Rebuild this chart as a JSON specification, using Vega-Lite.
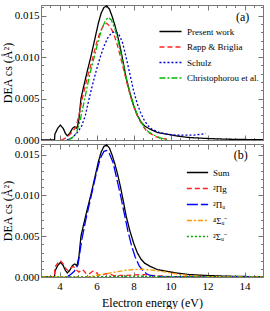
{
  "$schema": "https://vega.github.io/schema/vega-lite/v6.json",
  "padding": {"left": 0, "top": 2, "right": 1, "bottom": 0},
  "config": {
    "font": "Liberation Serif",
    "view": {"stroke": "#777", "strokeWidth": 1},
    "axis": {"domain": false, "grid": false, "tickColor": "#777", "labelFont": "Liberation Serif", "labelFontSize": 11, "labelColor": "black", "titleFont": "Liberation Serif", "titleFontSize": 12, "titleFontWeight": "normal", "titleColor": "black"},
    "legend": {"labelFont": "Liberation Serif", "labelFontSize": 9, "labelColor": "black", "padding": 0}
  },
  "bounds": "flush",
  "spacing": 4,
  "datasets": {
    "top": [
      {"s":"Present work","E":3.0,"v":0},{"s":"Present work","E":3.73,"v":0},{"s":"Present work","E":3.75,"v":0.0007},{"s":"Present work","E":3.9,"v":0.0014},{"s":"Present work","E":4.05,"v":0.0018},{"s":"Present work","E":4.2,"v":0.0014},{"s":"Present work","E":4.32,"v":0.0008},{"s":"Present work","E":4.42,"v":0.0005},{"s":"Present work","E":4.55,"v":0.0008},{"s":"Present work","E":4.7,"v":0.0014},{"s":"Present work","E":4.82,"v":0.0016},{"s":"Present work","E":4.95,"v":0.0014},{"s":"Present work","E":5.05,"v":0.0025},{"s":"Present work","E":5.16,"v":0.005},{"s":"Present work","E":5.3,"v":0.0064},{"s":"Present work","E":5.5,"v":0.0083},{"s":"Present work","E":5.7,"v":0.0101},{"s":"Present work","E":5.9,"v":0.0121},{"s":"Present work","E":6.1,"v":0.0141},{"s":"Present work","E":6.25,"v":0.0153},{"s":"Present work","E":6.4,"v":0.016},{"s":"Present work","E":6.55,"v":0.0162},{"s":"Present work","E":6.7,"v":0.0158},{"s":"Present work","E":6.85,"v":0.0149},{"s":"Present work","E":7.0,"v":0.0138},{"s":"Present work","E":7.15,"v":0.0125},{"s":"Present work","E":7.3,"v":0.011},{"s":"Present work","E":7.45,"v":0.0093},{"s":"Present work","E":7.6,"v":0.0075},{"s":"Present work","E":7.8,"v":0.0057},{"s":"Present work","E":8.0,"v":0.0042},{"s":"Present work","E":8.2,"v":0.003},{"s":"Present work","E":8.4,"v":0.0022},{"s":"Present work","E":8.6,"v":0.0017},{"s":"Present work","E":8.9,"v":0.0013},{"s":"Present work","E":9.3,"v":0.0009},{"s":"Present work","E":9.8,"v":0.0007},{"s":"Present work","E":10.3,"v":0.0005},{"s":"Present work","E":11,"v":0.0003},{"s":"Present work","E":12,"v":0.00018},{"s":"Present work","E":13,"v":0.0001},{"s":"Present work","E":14,"v":0.00006},{"s":"Present work","E":15,"v":0.00004},
      {"s":"Rapp & Briglia","E":4.1,"v":0},{"s":"Rapp & Briglia","E":4.3,"v":0.0002},{"s":"Rapp & Briglia","E":4.5,"v":0.0005},{"s":"Rapp & Briglia","E":4.7,"v":0.001},{"s":"Rapp & Briglia","E":4.9,"v":0.0016},{"s":"Rapp & Briglia","E":5.1,"v":0.0035},{"s":"Rapp & Briglia","E":5.25,"v":0.0052},{"s":"Rapp & Briglia","E":5.5,"v":0.0075},{"s":"Rapp & Briglia","E":5.75,"v":0.0095},{"s":"Rapp & Briglia","E":6.0,"v":0.0117},{"s":"Rapp & Briglia","E":6.2,"v":0.0131},{"s":"Rapp & Briglia","E":6.4,"v":0.0139},{"s":"Rapp & Briglia","E":6.55,"v":0.0141},{"s":"Rapp & Briglia","E":6.7,"v":0.0138},{"s":"Rapp & Briglia","E":6.9,"v":0.013},{"s":"Rapp & Briglia","E":7.1,"v":0.0117},{"s":"Rapp & Briglia","E":7.3,"v":0.01},{"s":"Rapp & Briglia","E":7.5,"v":0.0082},{"s":"Rapp & Briglia","E":7.7,"v":0.0064},{"s":"Rapp & Briglia","E":7.9,"v":0.0048},{"s":"Rapp & Briglia","E":8.1,"v":0.0035},{"s":"Rapp & Briglia","E":8.3,"v":0.0025},{"s":"Rapp & Briglia","E":8.5,"v":0.0017},{"s":"Rapp & Briglia","E":8.7,"v":0.0011},{"s":"Rapp & Briglia","E":8.9,"v":0.0008},{"s":"Rapp & Briglia","E":9.2,"v":0.0004},{"s":"Rapp & Briglia","E":9.5,"v":0.0002},{"s":"Rapp & Briglia","E":9.8,"v":0.0001},
      {"s":"Schulz","E":4.4,"v":0},{"s":"Schulz","E":4.7,"v":0.0003},{"s":"Schulz","E":5.0,"v":0.001},{"s":"Schulz","E":5.2,"v":0.0017},{"s":"Schulz","E":5.4,"v":0.003},{"s":"Schulz","E":5.6,"v":0.005},{"s":"Schulz","E":5.8,"v":0.0068},{"s":"Schulz","E":6.0,"v":0.0085},{"s":"Schulz","E":6.2,"v":0.01},{"s":"Schulz","E":6.4,"v":0.0113},{"s":"Schulz","E":6.6,"v":0.0123},{"s":"Schulz","E":6.8,"v":0.0129},{"s":"Schulz","E":7.0,"v":0.0131},{"s":"Schulz","E":7.2,"v":0.0128},{"s":"Schulz","E":7.4,"v":0.0118},{"s":"Schulz","E":7.6,"v":0.01},{"s":"Schulz","E":7.8,"v":0.008},{"s":"Schulz","E":8.0,"v":0.006},{"s":"Schulz","E":8.2,"v":0.0044},{"s":"Schulz","E":8.4,"v":0.0032},{"s":"Schulz","E":8.6,"v":0.0023},{"s":"Schulz","E":8.8,"v":0.0017},{"s":"Schulz","E":9.0,"v":0.0013},{"s":"Schulz","E":9.4,"v":0.0009},{"s":"Schulz","E":9.8,"v":0.0007},{"s":"Schulz","E":10.3,"v":0.0006},{"s":"Schulz","E":10.8,"v":0.0006},{"s":"Schulz","E":11.3,"v":0.0006},{"s":"Schulz","E":11.7,"v":0.0007},{"s":"Schulz","E":11.9,"v":0.0008},
      {"s":"Christophorou et al.","E":4.5,"v":0},{"s":"Christophorou et al.","E":4.7,"v":0.0003},{"s":"Christophorou et al.","E":4.9,"v":0.0008},{"s":"Christophorou et al.","E":5.1,"v":0.0022},{"s":"Christophorou et al.","E":5.3,"v":0.0043},{"s":"Christophorou et al.","E":5.5,"v":0.0065},{"s":"Christophorou et al.","E":5.7,"v":0.0085},{"s":"Christophorou et al.","E":5.9,"v":0.0102},{"s":"Christophorou et al.","E":6.1,"v":0.012},{"s":"Christophorou et al.","E":6.3,"v":0.0135},{"s":"Christophorou et al.","E":6.5,"v":0.0145},{"s":"Christophorou et al.","E":6.65,"v":0.0148},{"s":"Christophorou et al.","E":6.8,"v":0.0145},{"s":"Christophorou et al.","E":7.0,"v":0.0134},{"s":"Christophorou et al.","E":7.2,"v":0.0117},{"s":"Christophorou et al.","E":7.4,"v":0.0096},{"s":"Christophorou et al.","E":7.6,"v":0.0076},{"s":"Christophorou et al.","E":7.8,"v":0.0058},{"s":"Christophorou et al.","E":8.0,"v":0.0043},{"s":"Christophorou et al.","E":8.2,"v":0.0031},{"s":"Christophorou et al.","E":8.4,"v":0.0022},{"s":"Christophorou et al.","E":8.6,"v":0.0015},{"s":"Christophorou et al.","E":8.8,"v":0.001},{"s":"Christophorou et al.","E":9.1,"v":0.0006},{"s":"Christophorou et al.","E":9.4,"v":0.0003},{"s":"Christophorou et al.","E":9.7,"v":0.0001},{"s":"Christophorou et al.","E":9.9,"v":0.00005}
    ],
    "bottom": [
      {"s":"Sum","E":3.0,"v":0},{"s":"Sum","E":3.73,"v":0},{"s":"Sum","E":3.75,"v":0.0007},{"s":"Sum","E":3.9,"v":0.0014},{"s":"Sum","E":4.05,"v":0.0018},{"s":"Sum","E":4.2,"v":0.0014},{"s":"Sum","E":4.32,"v":0.0008},{"s":"Sum","E":4.42,"v":0.0005},{"s":"Sum","E":4.55,"v":0.0008},{"s":"Sum","E":4.7,"v":0.0014},{"s":"Sum","E":4.82,"v":0.0016},{"s":"Sum","E":4.95,"v":0.0014},{"s":"Sum","E":5.05,"v":0.0025},{"s":"Sum","E":5.16,"v":0.005},{"s":"Sum","E":5.3,"v":0.0064},{"s":"Sum","E":5.5,"v":0.0083},{"s":"Sum","E":5.7,"v":0.0101},{"s":"Sum","E":5.9,"v":0.0121},{"s":"Sum","E":6.1,"v":0.0141},{"s":"Sum","E":6.25,"v":0.0153},{"s":"Sum","E":6.4,"v":0.016},{"s":"Sum","E":6.55,"v":0.0162},{"s":"Sum","E":6.7,"v":0.0158},{"s":"Sum","E":6.85,"v":0.0149},{"s":"Sum","E":7.0,"v":0.0138},{"s":"Sum","E":7.15,"v":0.0125},{"s":"Sum","E":7.3,"v":0.011},{"s":"Sum","E":7.45,"v":0.0093},{"s":"Sum","E":7.6,"v":0.0075},{"s":"Sum","E":7.8,"v":0.0057},{"s":"Sum","E":8.0,"v":0.0042},{"s":"Sum","E":8.2,"v":0.003},{"s":"Sum","E":8.4,"v":0.0022},{"s":"Sum","E":8.6,"v":0.0017},{"s":"Sum","E":8.9,"v":0.0013},{"s":"Sum","E":9.3,"v":0.0009},{"s":"Sum","E":9.8,"v":0.0007},{"s":"Sum","E":10.3,"v":0.0005},{"s":"Sum","E":11,"v":0.0003},{"s":"Sum","E":12,"v":0.00018},{"s":"Sum","E":13,"v":0.0001},{"s":"Sum","E":14,"v":0.00006},{"s":"Sum","E":15,"v":0.00004},
      {"s":"²Πg","E":3.0,"v":0},{"s":"²Πg","E":3.73,"v":0},{"s":"²Πg","E":3.75,"v":0.0012},{"s":"²Πg","E":3.9,"v":0.0017},{"s":"²Πg","E":4.05,"v":0.002},{"s":"²Πg","E":4.2,"v":0.0016},{"s":"²Πg","E":4.35,"v":0.001},{"s":"²Πg","E":4.45,"v":0.0008},{"s":"²Πg","E":4.6,"v":0.0011},{"s":"²Πg","E":4.75,"v":0.0013},{"s":"²Πg","E":4.9,"v":0.0009},{"s":"²Πg","E":5.05,"v":0.0006},{"s":"²Πg","E":5.2,"v":0.0009},{"s":"²Πg","E":5.3,"v":0.0008},{"s":"²Πg","E":5.45,"v":0.0004},{"s":"²Πg","E":5.6,"v":0.0004},{"s":"²Πg","E":5.8,"v":0.0007},{"s":"²Πg","E":5.95,"v":0.0006},{"s":"²Πg","E":6.15,"v":0.0002},{"s":"²Πg","E":6.3,"v":0.0002},{"s":"²Πg","E":6.5,"v":0.0004},{"s":"²Πg","E":6.7,"v":0.0004},{"s":"²Πg","E":6.9,"v":0.0002},{"s":"²Πg","E":7.1,"v":0.00015},{"s":"²Πg","E":7.3,"v":0.0002},{"s":"²Πg","E":7.6,"v":0.0002},{"s":"²Πg","E":8.0,"v":0.00025},{"s":"²Πg","E":8.5,"v":0.0003},{"s":"²Πg","E":9.0,"v":0.0002},{"s":"²Πg","E":9.5,"v":0.0001},{"s":"²Πg","E":10,"v":0.00005},{"s":"²Πg","E":15,"v":0},
      {"s":"²Πᵤ","E":4.4,"v":0},{"s":"²Πᵤ","E":4.6,"v":0.0003},{"s":"²Πᵤ","E":4.8,"v":0.0007},{"s":"²Πᵤ","E":5.0,"v":0.0015},{"s":"²Πᵤ","E":5.2,"v":0.0045},{"s":"²Πᵤ","E":5.4,"v":0.0068},{"s":"²Πᵤ","E":5.6,"v":0.0088},{"s":"²Πᵤ","E":5.8,"v":0.0108},{"s":"²Πᵤ","E":6.0,"v":0.0128},{"s":"²Πᵤ","E":6.2,"v":0.0145},{"s":"²Πᵤ","E":6.4,"v":0.0154},{"s":"²Πᵤ","E":6.55,"v":0.0155},{"s":"²Πᵤ","E":6.7,"v":0.0151},{"s":"²Πᵤ","E":6.9,"v":0.014},{"s":"²Πᵤ","E":7.1,"v":0.012},{"s":"²Πᵤ","E":7.3,"v":0.01},{"s":"²Πᵤ","E":7.5,"v":0.0078},{"s":"²Πᵤ","E":7.7,"v":0.0056},{"s":"²Πᵤ","E":7.9,"v":0.0038},{"s":"²Πᵤ","E":8.1,"v":0.0024},{"s":"²Πᵤ","E":8.3,"v":0.0014},{"s":"²Πᵤ","E":8.5,"v":0.0008},{"s":"²Πᵤ","E":8.7,"v":0.0004},{"s":"²Πᵤ","E":8.9,"v":0.0002},{"s":"²Πᵤ","E":9.2,"v":0.0001},{"s":"²Πᵤ","E":9.6,"v":0},{"s":"²Πᵤ","E":15,"v":0},
      {"s":"⁴Σᵤ⁻","E":3.0,"v":0},{"s":"⁴Σᵤ⁻","E":5.5,"v":0},{"s":"⁴Σᵤ⁻","E":6.0,"v":0.0002},{"s":"⁴Σᵤ⁻","E":6.5,"v":0.0004},{"s":"⁴Σᵤ⁻","E":7.0,"v":0.0006},{"s":"⁴Σᵤ⁻","E":7.5,"v":0.0008},{"s":"⁴Σᵤ⁻","E":8.0,"v":0.00092},{"s":"⁴Σᵤ⁻","E":8.5,"v":0.00095},{"s":"⁴Σᵤ⁻","E":9.0,"v":0.00085},{"s":"⁴Σᵤ⁻","E":9.5,"v":0.0007},{"s":"⁴Σᵤ⁻","E":10.0,"v":0.0005},{"s":"⁴Σᵤ⁻","E":10.5,"v":0.0003},{"s":"⁴Σᵤ⁻","E":11.0,"v":0.00018},{"s":"⁴Σᵤ⁻","E":11.5,"v":0.0001},{"s":"⁴Σᵤ⁻","E":12.0,"v":0.00005},{"s":"⁴Σᵤ⁻","E":13.0,"v":0.00002},{"s":"⁴Σᵤ⁻","E":15.0,"v":0},
      {"s":"²Σᵤ⁻","E":3.0,"v":0},{"s":"²Σᵤ⁻","E":5.0,"v":0},{"s":"²Σᵤ⁻","E":6.0,"v":0.00003},{"s":"²Σᵤ⁻","E":7.0,"v":0.00008},{"s":"²Σᵤ⁻","E":8.0,"v":0.0001},{"s":"²Σᵤ⁻","E":9.0,"v":0.00008},{"s":"²Σᵤ⁻","E":10.0,"v":0.00005},{"s":"²Σᵤ⁻","E":12.0,"v":0.00002},{"s":"²Σᵤ⁻","E":15.0,"v":0}
    ],
    "one": [{"k": 1}]
  },
  "resolve": {"scale": {"color": "independent", "strokeDash": "independent"}, "legend": {"color": "independent", "strokeDash": "independent"}},
  "vconcat": [
    {
      "width": 222,
      "height": 135,
      "data": {"name": "top"},
      "resolve": {"axis": {"x": "independent", "y": "independent"}},
      "layer": [
        {
          "mark": {"type": "line", "strokeWidth": 1.3, "clip": true},
          "encoding": {
            "x": {"field": "E", "type": "quantitative", "scale": {"domain": [3, 15], "nice": false},
              "axis": {"orient": "bottom", "title": null, "labels": false, "values": [3,3.5,4,4.5,5,5.5,6,6.5,7,7.5,8,8.5,9,9.5,10,10.5,11,11.5,12,12.5,13,13.5,14,14.5,15],
                "tickSize": {"condition": {"test": "datum.value % 2 == 0", "value": -5}, "value": -2.5}}},
            "y": {"field": "v", "type": "quantitative", "scale": {"domain": [0, 0.0163], "nice": false},
              "axis": {"orient": "left", "title": "DEA cs (Å²)", "format": ".3f", "labelPadding": 7, "titlePadding": 0,
                "values": [0,0.001,0.002,0.003,0.004,0.005,0.006,0.007,0.008,0.009,0.010,0.011,0.012,0.013,0.014,0.015,0.016],
                "labelExpr": "round(datum.value*1000) % 5 == 0 ? datum.label : ''",
                "tickSize": {"condition": {"test": "round(datum.value*1000) % 5 == 0", "value": -5}, "value": -2.5}}},
            "color": {"field": "s", "type": "nominal",
              "scale": {"domain": ["Present work", "Rapp & Briglia", "Schulz", "Christophorou et al."], "range": ["#000000", "#ff2020", "#0000cc", "#00bb00"]},
              "legend": {"orient": "none", "legendX": 120, "legendY": 17, "title": null, "symbolType": "M-1.3,0L1.3,0", "symbolSize": 289, "symbolStrokeWidth": 1.3, "labelOffset": 7, "rowPadding": 0.5}},
            "strokeDash": {"field": "s", "type": "nominal",
              "scale": {"domain": ["Present work", "Rapp & Briglia", "Schulz", "Christophorou et al."], "range": [[1,0],[5,3],[2,2],[6,2,2,2]]},
              "legend": {"orient": "none", "legendX": 120, "legendY": 17, "title": null, "symbolType": "M-1.3,0L1.3,0", "symbolSize": 289, "symbolStrokeWidth": 1.3, "labelOffset": 7, "rowPadding": 0.5}}
          }
        },
        {
          "mark": {"type": "point", "opacity": 0},
          "encoding": {
            "x": {"field": "E", "type": "quantitative",
              "axis": {"orient": "top", "title": null, "labels": false, "values": [3,3.5,4,4.5,5,5.5,6,6.5,7,7.5,8,8.5,9,9.5,10,10.5,11,11.5,12,12.5,13,13.5,14,14.5,15],
                "tickSize": {"condition": {"test": "datum.value % 2 == 0", "value": -5}, "value": -2.5}}},
            "y": {"field": "v", "type": "quantitative",
              "axis": {"orient": "right", "title": null, "labels": false,
                "values": [0,0.001,0.002,0.003,0.004,0.005,0.006,0.007,0.008,0.009,0.010,0.011,0.012,0.013,0.014,0.015,0.016],
                "tickSize": {"condition": {"test": "round(datum.value*1000) % 5 == 0", "value": -5}, "value": -2.5}}}
          }
        },
        {
          "data": {"name": "one"},
          "mark": {"type": "text", "fontSize": 12, "font": "Liberation Serif", "align": "center", "baseline": "middle"},
          "encoding": {"x": {"datum": 13.9, "axis": null}, "y": {"datum": 0.0148, "axis": null}, "text": {"value": "(a)"}}
        }
      ]
    },
    {
      "width": 222,
      "height": 133,
      "data": {"name": "bottom"},
      "resolve": {"axis": {"x": "independent", "y": "independent"}},
      "layer": [
        {
          "mark": {"type": "line", "strokeWidth": 1.3, "clip": true},
          "encoding": {
            "x": {"field": "E", "type": "quantitative", "scale": {"domain": [3, 15], "nice": false},
              "axis": {"orient": "bottom", "title": "Electron energy (eV)", "labelPadding": 8.5, "titlePadding": 6, "values": [3,3.5,4,4.5,5,5.5,6,6.5,7,7.5,8,8.5,9,9.5,10,10.5,11,11.5,12,12.5,13,13.5,14,14.5,15],
                "labelExpr": "datum.value % 2 == 0 && datum.value > 3 && datum.value < 15 ? format(datum.value, 'd') : ''",
                "tickSize": {"condition": {"test": "datum.value % 2 == 0", "value": -5}, "value": -2.5}}},
            "y": {"field": "v", "type": "quantitative", "scale": {"domain": [0, 0.0163], "nice": false},
              "axis": {"orient": "left", "title": "DEA cs (Å²)", "format": ".3f", "labelPadding": 7, "titlePadding": 0,
                "values": [0,0.001,0.002,0.003,0.004,0.005,0.006,0.007,0.008,0.009,0.010,0.011,0.012,0.013,0.014,0.015,0.016],
                "labelExpr": "round(datum.value*1000) % 5 == 0 ? datum.label : ''",
                "tickSize": {"condition": {"test": "round(datum.value*1000) % 5 == 0", "value": -5}, "value": -2.5}}},
            "color": {"field": "s", "type": "nominal",
              "scale": {"domain": ["Sum", "²Πg", "²Πᵤ", "⁴Σᵤ⁻", "²Σᵤ⁻"], "range": ["#000000", "#ff2020", "#0000ff", "#ff9900", "#00aa00"]},
              "legend": {"orient": "none", "legendX": 147, "legendY": 19, "title": null, "symbolType": "M-1.25,0L1.25,0", "symbolSize": 289, "symbolStrokeWidth": 1.3, "labelOffset": 6, "rowPadding": 1}},
            "strokeDash": {"field": "s", "type": "nominal",
              "scale": {"domain": ["Sum", "²Πg", "²Πᵤ", "⁴Σᵤ⁻", "²Σᵤ⁻"], "range": [[1,0],[5,3],[11,3],[5,2,2,2],[2,2]]},
              "legend": {"orient": "none", "legendX": 147, "legendY": 19, "title": null, "symbolType": "M-1.25,0L1.25,0", "symbolSize": 289, "symbolStrokeWidth": 1.3, "labelOffset": 6, "rowPadding": 1}}
          }
        },
        {
          "mark": {"type": "point", "opacity": 0},
          "encoding": {
            "x": {"field": "E", "type": "quantitative",
              "axis": {"orient": "top", "title": null, "labels": false, "values": [3,3.5,4,4.5,5,5.5,6,6.5,7,7.5,8,8.5,9,9.5,10,10.5,11,11.5,12,12.5,13,13.5,14,14.5,15],
                "tickSize": {"condition": {"test": "datum.value % 2 == 0", "value": -5}, "value": -2.5}}},
            "y": {"field": "v", "type": "quantitative",
              "axis": {"orient": "right", "title": null, "labels": false,
                "values": [0,0.001,0.002,0.003,0.004,0.005,0.006,0.007,0.008,0.009,0.010,0.011,0.012,0.013,0.014,0.015,0.016],
                "tickSize": {"condition": {"test": "round(datum.value*1000) % 5 == 0", "value": -5}, "value": -2.5}}}
          }
        },
        {
          "data": {"name": "one"},
          "mark": {"type": "text", "fontSize": 12, "font": "Liberation Serif", "align": "center", "baseline": "middle"},
          "encoding": {"x": {"datum": 13.8, "axis": null}, "y": {"datum": 0.015, "axis": null}, "text": {"value": "(b)"}}
        }
      ]
    }
  ]
}
